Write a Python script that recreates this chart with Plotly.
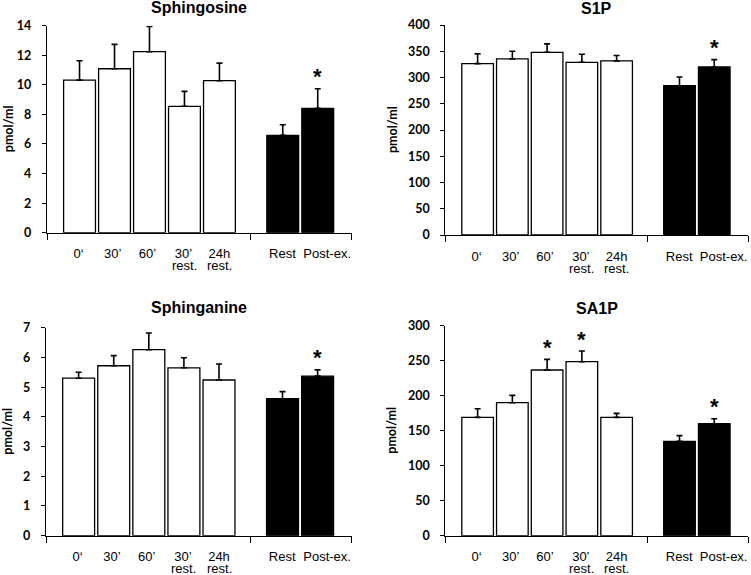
import plotly.graph_objects as go

categories = ["0‘", "30’", "60’", "30’", "24h", "Rest", "Post-ex."]
sublabels = ["", "", "", "rest.", "rest.", "", ""]
bar_colors = ["white", "white", "white", "white", "white", "black", "black"]

titles = ["Sphingosine", "S1P", "Sphinganine", "SA1P"]

sphingosine_mean = [10.32, 11.09, 12.24, 8.55, 10.28, 6.58, 8.41]
sphingosine_err = [1.31, 1.65, 1.71, 1.01, 1.19, 0.72, 1.33]
s1p_mean = [326.5, 335.3, 348.0, 329.0, 331.7, 284.4, 320.0]
s1p_err = [18.5, 14.7, 16.0, 15.3, 10.3, 16.6, 14.0]
sphinganine_mean = [5.30, 5.72, 6.26, 5.65, 5.24, 4.61, 5.37]
sphinganine_err = [0.20, 0.34, 0.56, 0.34, 0.54, 0.24, 0.21]
sa1p_mean = [169.0, 190.0, 236.7, 248.6, 169.0, 134.8, 160.0]
sa1p_err = [12.4, 10.5, 15.2, 15.2, 5.8, 8.1, 7.1]

significant = [
    [False, False, False, False, False, False, True],
    [False, False, False, False, False, False, True],
    [False, False, False, False, False, False, True],
    [False, False, True, True, False, False, True],
]

y_max = [14, 400, 7, 300]
y_dtick = [2, 50, 1, 50]
y_label = "pmol/ml"

means = [sphingosine_mean, s1p_mean, sphinganine_mean, sa1p_mean]
errs = [sphingosine_err, s1p_err, sphinganine_err, sa1p_err]

# layout: slot positions of the bars on a numeric axis, and of their labels
slots = [0, 1, 2, 3, 4, 5.81, 6.81]
label_pos = [-0.03, 0.95, 1.94, 2.97, 4.0, 5.8, 7.08]
x_range = [-0.93, 7.79]
boundaries = [-0.925, 4.89, 7.785]

W, H = 751, 575
# plot areas in pixels (left, right, top, bottom)
areas = [
    (47, 352, 25.7, 232.7),
    (445.3, 748.3, 25.0, 235.0),
    (46, 352, 327.7, 535.7),
    (445.3, 748.3, 325.7, 535.7),
]
title_shift = [17.7, 16.3, 20.0, 17.7]
ylabel_x = [8, 392, 8, 392]

fig = go.Figure()
layout = dict(
    width=W, height=H,
    margin=dict(l=0, r=0, t=0, b=0, autoexpand=False),
    paper_bgcolor="white", plot_bgcolor="white",
    showlegend=False,
    font=dict(family="Liberation Sans, Arial", color="black"),
)
annotations = []

for i in range(4):
    xn = "x" if i == 0 else f"x{i+1}"
    yn = "y" if i == 0 else f"y{i+1}"
    xk = "xaxis" if i == 0 else f"xaxis{i+1}"
    yk = "yaxis" if i == 0 else f"yaxis{i+1}"
    l, r, t, b = areas[i]
    fig.add_trace(go.Bar(
        x=slots, y=means[i], width=0.91,
        marker=dict(color=bar_colors, line=dict(color="black", width=1.3)),
        error_y=dict(type="data", array=errs[i], arrayminus=[0] * 7,
                     symmetric=False, color="black", thickness=1.6, width=3),
        xaxis=xn, yaxis=yn, hoverinfo="skip",
    ))
    layout[xk] = dict(
        domain=[l / W, r / W], anchor=yn, range=x_range, automargin=False,
        tickmode="array", tickvals=label_pos, ticktext=categories, tickangle=0,
        ticks="", ticklabelstandoff=9,
        tickfont=dict(family="Liberation Sans, Arial", size=13, color="black"),
        showline=True, linecolor="black", linewidth=1.3,
        showgrid=False, zeroline=False, fixedrange=True,
        minor=dict(tickmode="array", tickvals=boundaries, ticks="outside",
                   ticklen=6, tickwidth=1.3, tickcolor="black", showgrid=False),
    )
    layout[yk] = dict(
        domain=[1 - b / H, 1 - t / H], anchor=xn, range=[0, y_max[i]],
        automargin=False,
        tickmode="linear", tick0=0, dtick=y_dtick[i],
        ticks="outside", ticklen=4, tickwidth=1.3, tickcolor="black",
        ticklabelstandoff=8,
        tickfont=dict(family="Lato", size=12.5, color="black", weight="bold"),
        showline=True, linecolor="black", linewidth=1.3,
        showgrid=False, zeroline=False, fixedrange=True,
    )
    # panel title
    annotations.append(dict(
        text=f"<b>{titles[i]}</b>", xref="paper", yref="paper",
        x=(l + r) / 2 / W, y=1 - t / H, yshift=title_shift[i],
        xanchor="center", yanchor="middle", showarrow=False,
        font=dict(family="Liberation Sans, Arial", size=16, color="black"),
    ))
    # y-axis label
    annotations.append(dict(
        text=y_label, xref="paper", yref="paper",
        x=ylabel_x[i] / W, y=1 - (t + b) / 2 / H, textangle=-90,
        xanchor="center", yanchor="middle", showarrow=False,
        font=dict(family="Lato", size=12.5, color="black", weight="bold"),
    ))
    # second line of two-line category labels
    for j, sub in enumerate(sublabels):
        if sub:
            annotations.append(dict(
                text=sub, xref=xn, yref=yn, x=slots[j], y=0, yshift=-33,
                xanchor="center", yanchor="middle", showarrow=False,
                font=dict(family="Liberation Sans, Arial", size=13, color="black"),
            ))
    # significance asterisks
    for j, sig in enumerate(significant[i]):
        if sig:
            annotations.append(dict(
                text="<b>*</b>", xref=xn, yref=yn, x=slots[j],
                y=means[i][j] + errs[i][j], yshift=12,
                xanchor="center", yanchor="middle", showarrow=False,
                font=dict(family="Liberation Sans, Arial", size=22, color="black"),
            ))

layout["annotations"] = annotations
fig.update_layout(**layout)
fig.write_html("out.html", config={"displayModeBar": False},
               post_script="document.body.style.margin='0';document.body.style.overflow='hidden';")
